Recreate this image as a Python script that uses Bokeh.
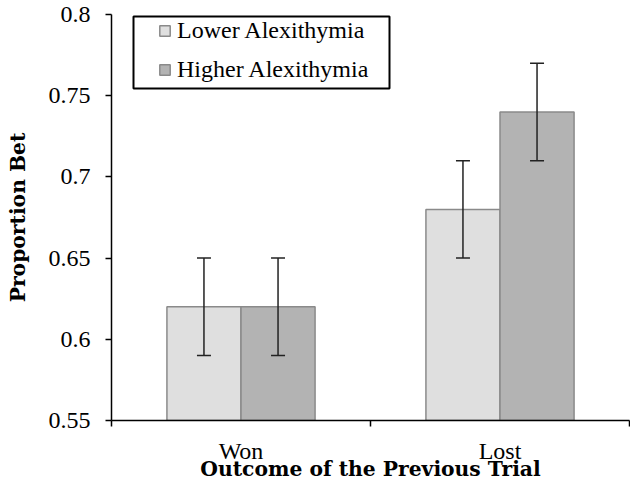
from bokeh.plotting import figure
from bokeh.models import (ColumnDataSource, FixedTicker, Whisker, TeeHead,
                          Legend, LegendItem, Range1d, BoxAnnotation)
from bokeh.transform import dodge
from bokeh.embed import file_html
from bokeh.resources import INLINE

# ---- data ----
categories = ["Won", "Lost"]
lower_alex = [0.62, 0.68]
higher_alex = [0.62, 0.74]
lower_err = [0.03, 0.03]
higher_err = [0.03, 0.03]
series_names = ["Lower Alexithymia", "Higher Alexithymia"]
y_ticks = [0.55, 0.6, 0.65, 0.7, 0.75, 0.8]
y_tick_labels = ["0.55", "0.6", "0.65", "0.7", "0.75", "0.8"]

centers = [i + 0.5 for i in range(len(categories))]
bar_w = 0.286
off = bar_w / 2

src = ColumnDataSource(dict(
    x=centers,
    lower=lower_alex, higher=higher_alex,
    lower_up=[v + e for v, e in zip(lower_alex, lower_err)],
    lower_dn=[v - e for v, e in zip(lower_alex, lower_err)],
    higher_up=[v + e for v, e in zip(higher_alex, higher_err)],
    higher_dn=[v - e for v, e in zip(higher_alex, higher_err)],
))

p = figure(width=630, height=485, output_backend="svg", toolbar_location=None,
           x_range=Range1d(0, len(categories)), y_range=Range1d(y_ticks[0], y_ticks[-1]),
           min_border_left=111, min_border_right=1, min_border_top=14, min_border_bottom=65)
p.outline_line_color = None
p.grid.grid_line_color = None
p.background_fill_color = "white"
p.border_fill_color = "white"

serif = "Liberation Serif"
bold_font = "DejaVu Serif"
lower_fill, higher_fill, bar_edge = "#dfdfdf", "#b3b3b3", "#8a8a8a"

r1 = p.vbar(x=dodge("x", -off, range=p.x_range), top="lower", bottom=y_ticks[0], width=bar_w,
            source=src, fill_color=lower_fill, line_color=bar_edge, line_width=1.5)
r2 = p.vbar(x=dodge("x", off, range=p.x_range), top="higher", bottom=y_ticks[0], width=bar_w,
            source=src, fill_color=higher_fill, line_color=bar_edge, line_width=1.5)

for key, d in (("lower", -off), ("higher", off)):
    w = Whisker(base=dodge("x", d, range=p.x_range), upper=key + "_up", lower=key + "_dn",
                source=src, line_color="#222222", line_width=1.5, level="overlay",
                upper_head=TeeHead(size=14, line_color="#222222", line_width=1.5),
                lower_head=TeeHead(size=14, line_color="#222222", line_width=1.5))
    p.add_layout(w)

# y axis
ya = p.yaxis[0]
ya.ticker = FixedTicker(ticks=y_ticks)
ya.major_label_overrides = {t: l for t, l in zip(y_ticks, y_tick_labels)}
ya.major_label_text_font = serif
ya.major_label_text_font_size = "24px"
ya.major_label_text_color = "black"
ya.major_tick_in = 0
ya.major_tick_out = 6
ya.minor_tick_line_color = None
ya.axis_line_width = 1.5
ya.major_tick_line_width = 1.5
ya.axis_label = "Proportion Bet"
ya.axis_label_text_font = bold_font
ya.axis_label_text_font_style = "bold"
ya.axis_label_text_font_size = "20.3px"
ya.axis_label_text_color = "black"
ya.axis_label_standoff = 16
ya.major_label_standoff = 15

# x axis: labels at category centres, ticks at boundaries
xa = p.xaxis[0]
xa.ticker = FixedTicker(ticks=centers, minor_ticks=list(range(len(categories) + 1)))
xa.major_label_overrides = {c: n for c, n in zip(centers, categories)}
xa.major_label_text_font = serif
xa.major_label_text_font_size = "24px"
xa.major_label_text_color = "black"
xa.major_tick_in = 0
xa.major_tick_out = 0
xa.minor_tick_in = 0
xa.minor_tick_out = 6
xa.minor_tick_line_width = 1.5
xa.axis_line_width = 1.5
xa.major_label_standoff = 11
xa.axis_label = "Outcome of the Previous Trial"
xa.axis_label_text_font = bold_font
xa.axis_label_text_font_style = "bold"
xa.axis_label_text_font_size = "20.3px"
xa.axis_label_text_color = "black"
xa.axis_label_standoff = -10

# legend frame (screen units, relative to the plot frame's bottom-left)
box = BoxAnnotation(left=22, right=278, top=404, bottom=332,
                    left_units="screen", right_units="screen",
                    top_units="screen", bottom_units="screen",
                    fill_color="white", fill_alpha=1,
                    line_color="black", line_width=2, line_alpha=1)
p.add_layout(box)

legend = Legend(items=[LegendItem(label=series_names[0], renderers=[r1]),
                       LegendItem(label=series_names[1], renderers=[r2])],
                location=(47, 337))
legend.label_text_font = serif
legend.label_text_font_size = "24px"
legend.label_text_color = "black"
legend.glyph_width = 13
legend.glyph_height = 13
legend.label_standoff = 6
legend.spacing = 12
legend.padding = 0
legend.margin = 0
legend.border_line_color = None
legend.background_fill_alpha = 0
p.add_layout(legend, "center")

open("out.html", "w").write(file_html(p, INLINE))
